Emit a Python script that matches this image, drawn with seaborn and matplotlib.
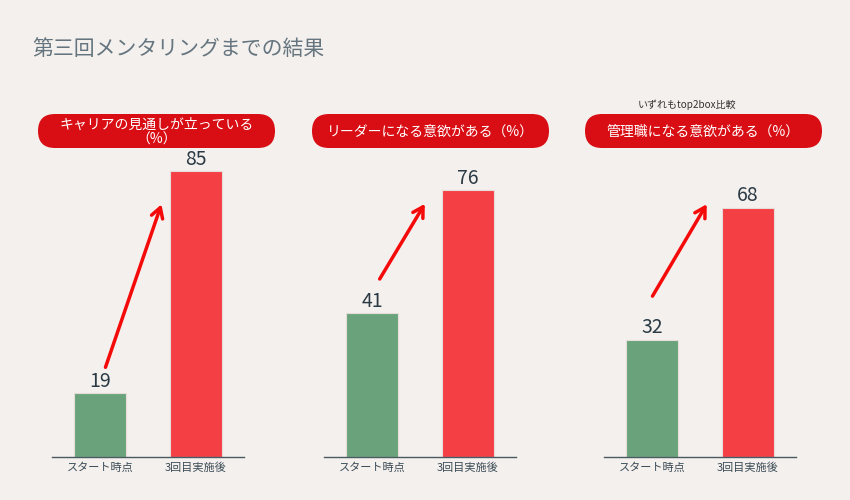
import numpy as np
import seaborn as sns
import pandas as pd
import matplotlib.pyplot as plt
from matplotlib.patches import FancyBboxPatch

# data
categories = ["スタート時点", "3回目実施後"]
titles = ["キャリアの見通しが立っている\n（%）", "リーダーになる意欲がある（%）", "管理職になる意欲がある（%）"]
career = [19, 85]
leader = [41, 76]
manager = [32, 68]
series = [career, leader, manager]

bg = "#f4f0ed"
colors = {"スタート時点": "#6aa37b", "3回目実施後": "#f43f45"}

sns.set_theme(style="white")
plt.rcParams["font.family"] = ["Noto Sans CJK JP", "DejaVu Sans"]

fig = plt.figure(figsize=(8.5, 5), dpi=100)
fig.patch.set_facecolor(bg)

# layout (pixels converted to figure fractions)
lefts = [52, 324, 604]
ytops = [100, 95.7, 91.7]
arrows = [((0.057, 26.7), (0.64, 75.2)),
          ((0.08, 50.7), (0.55, 72.1)),
          ((0.005, 43.9), (0.57, 69.0))]

for i, vals in enumerate(series):
    ax = fig.add_axes([lefts[i] / 850, 43 / 500, 192 / 850, 336 / 500])
    ax.set_facecolor("none")
    df = pd.DataFrame({"時点": categories, "値": vals})
    sns.barplot(data=df, x="時点", y="値", hue="時点", palette=colors,
                legend=False, width=0.55, saturation=1, ax=ax,
                edgecolor="#e6dcd8", linewidth=0.8)
    for c in ax.containers:
        ax.bar_label(c, padding=1, fontsize=14, color="#2b3a44")
    ax.set_xlim(-0.5, 1.5)
    ax.set_ylim(0, ytops[i])
    ax.set_xlabel("")
    ax.set_ylabel("")
    ax.set_yticks([])
    ax.tick_params(axis="x", length=0, pad=4, labelsize=8, labelcolor="#3a4a55")
    for s in ["top", "left", "right"]:
        ax.spines[s].set_visible(False)
    ax.spines["bottom"].set_color("#4a5a63")
    ax.spines["bottom"].set_linewidth(1)
    (x0, y0), (x1, y1) = arrows[i]
    ax.annotate("", xy=(x1, y1), xytext=(x0, y0), annotation_clip=False,
                arrowprops=dict(arrowstyle="->,head_length=0.6,head_width=0.35",
                                color="#f50a0a", lw=2.5, shrinkA=0, shrinkB=0))

# overlay in pixel coordinates for title and pills
ov = fig.add_axes([0, 0, 1, 1])
ov.set_xlim(0, 850)
ov.set_ylim(500, 0)
ov.axis("off")
ov.patch.set_alpha(0)

ov.text(32, 49, "第三回メンタリングまでの結果", fontsize=15, color="#65757f",
        va="center", ha="left")

pill_x = [38, 312, 585]
for i, t in enumerate(titles):
    ov.add_patch(FancyBboxPatch((pill_x[i], 114), 237, 34,
                                boxstyle="round,pad=0,rounding_size=17",
                                fc="#d80e14", ec="none"))
    ov.text(pill_x[i] + 118.5, 132, t, fontsize=10, color="white",
            ha="center", va="center", linespacing=1.1)

ov.text(687, 105, "いずれもtop2box比較", fontsize=7.2, color="#333333",
        ha="center", va="center")

plt.savefig("out.png", dpi=100, facecolor=bg)
